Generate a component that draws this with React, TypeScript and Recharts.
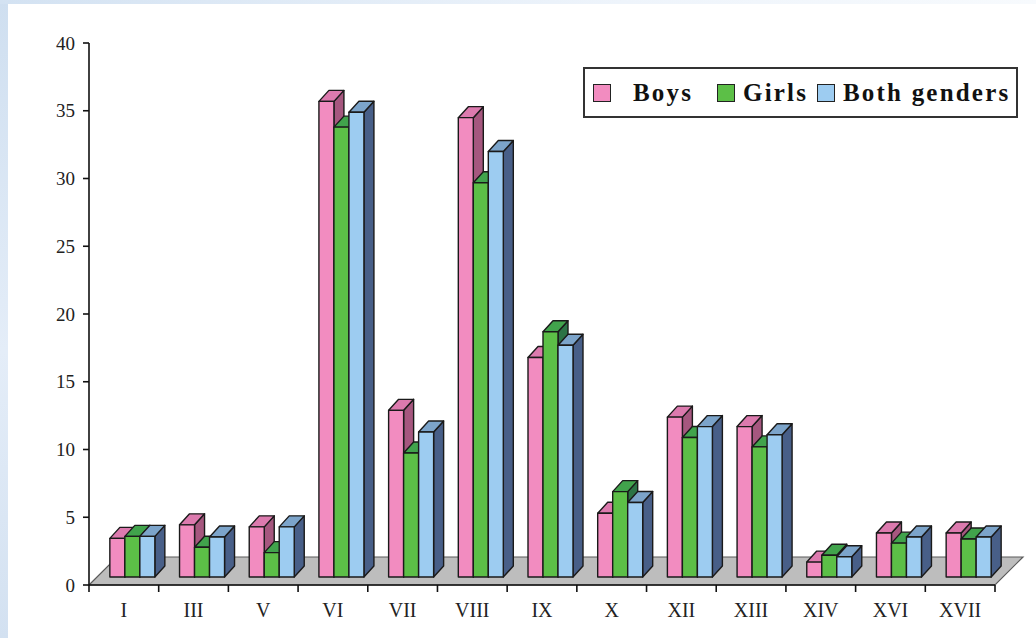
import { Bar, BarChart, Legend, ReferenceArea, XAxis, YAxis } from "recharts";

const CATEGORIES = ["I", "III", "V", "VI", "VII", "VIII", "IX", "X", "XII", "XIII", "XIV", "XVI", "XVII"];
const BOYS = [2.85, 3.85, 3.7, 35.1, 12.3, 33.9, 16.2, 4.7, 11.8, 11.1, 1.1, 3.25, 3.25];
const GIRLS = [3.0, 2.2, 1.8, 33.2, 9.15, 29.1, 18.1, 6.3, 10.3, 9.6, 1.6, 2.5, 2.8];
const BOTH_GENDERS = [3.0, 2.95, 3.7, 34.3, 10.7, 31.4, 17.1, 5.5, 11.1, 10.5, 1.5, 2.95, 2.95];
const SERIES_NAMES = ["Boys", "Girls", "Both genders"];
const Y_TICKS = [0, 5, 10, 15, 20, 25, 30, 35, 40];

const data = CATEGORIES.map((group, i) => ({
  group,
  boys: BOYS[i],
  girls: GIRLS[i],
  both: BOTH_GENDERS[i],
}));

const WIDTH = 1036;
const HEIGHT = 638;
const MARGIN = { top: 43, right: 41, bottom: 0, left: 0 };
const Y_AXIS_W = 89;
const X_AXIS_H = 53;
const PLOT_W = WIDTH - MARGIN.left - MARGIN.right - Y_AXIS_W;
const HALF_BAND = PLOT_W / CATEGORIES.length / 2;

// boxes stand a little behind the axis plane; DEPTH is the extrusion of each box
const FRONT = { dx: 9, dy: -8 };
const DEPTH = { dx: 10, dy: -11 };
const FLOOR = { dx: 28, dy: -28 };

const SERIF = '"Liberation Serif", "DejaVu Serif", serif';

const PALETTE = {
  boys: { front: "#f28cc0", top: "#dc7aae", side: "#a6577f" },
  girls: { front: "#5cbf47", top: "#41a34c", side: "#2c7346" },
  both: { front: "#9dccf1", top: "#7ca4ca", side: "#485f88" },
};

type BoxColors = { front: string; top: string; side: string };

function makeBox(colors: BoxColors) {
  return (props: any) => {
    const { x, y, width, height } = props;
    if (x == null || width == null) return null;
    const fx = x + FRONT.dx;
    const fy = y + FRONT.dy;
    const w = width;
    const h = height;
    const top = `${fx},${fy} ${fx + DEPTH.dx},${fy + DEPTH.dy} ${fx + w + DEPTH.dx},${fy + DEPTH.dy} ${fx + w},${fy}`;
    const side = `${fx + w},${fy} ${fx + w + DEPTH.dx},${fy + DEPTH.dy} ${fx + w + DEPTH.dx},${fy + h + DEPTH.dy} ${fx + w},${fy + h}`;
    return (
      <g stroke="#1a1a1a" strokeWidth={1.4} strokeLinejoin="round">
        <polygon points={side} fill={colors.side} />
        <polygon points={top} fill={colors.top} />
        <rect x={fx} y={fy} width={w} height={h} fill={colors.front} />
      </g>
    );
  };
}

function Floor(props: any) {
  const { x, y, width, height } = props;
  const bottom = y + height;
  const right = x + width;
  const pts = `${x},${bottom} ${right},${bottom} ${right + FLOOR.dx},${bottom + FLOOR.dy} ${x + FLOOR.dx},${bottom + FLOOR.dy}`;
  return <polygon points={pts} fill="#bdbdbd" stroke="#5a5a5a" strokeWidth={1.2} />;
}

function GroupTick(props: any) {
  const { x, y, payload, index } = props;
  const left = x - HALF_BAND;
  const right = x + HALF_BAND;
  return (
    <g>
      <line x1={left} y1={y - 7} x2={left} y2={y} stroke="#111" strokeWidth={1.6} />
      {index === CATEGORIES.length - 1 && (
        <line x1={right} y1={y - 7} x2={right} y2={y} stroke="#111" strokeWidth={1.6} />
      )}
      <text x={x} y={y + 25} textAnchor="middle" fill="#222" fontSize={20} fontFamily={SERIF}>
        {payload.value}
      </text>
    </g>
  );
}

const LEGEND_ITEM_X = [10, 134, 234];
const LEGEND_TEXT_GAP = [22, 8, 8];

function LegendBox({ payload }: any) {
  const items = [...(payload ?? [])].sort(
    (a: any, b: any) => SERIES_NAMES.indexOf(a.value) - SERIES_NAMES.indexOf(b.value)
  );
  return (
    <div
      style={{
        position: "relative",
        width: 435,
        height: 51,
        border: "2px solid #333",
        boxSizing: "border-box",
        background: "#fff",
      }}
    >
      {items.map((p: any, i: number) => (
        <div
          key={p.value}
          style={{
            position: "absolute",
            left: LEGEND_ITEM_X[i] - 2,
            top: 0,
            height: 47,
            display: "flex",
            alignItems: "center",
          }}
        >
          <span
            style={{
              display: "inline-block",
              width: 18,
              height: 18,
              border: "1.5px solid #222",
              boxSizing: "border-box",
              background: p.color,
            }}
          />
          <span
            style={{
              marginLeft: LEGEND_TEXT_GAP[i],
              fontFamily: SERIF,
              fontWeight: 700,
              fontSize: 25,
              letterSpacing: 2.2,
              color: "#111",
              whiteSpace: "nowrap",
            }}
          >
            {p.value}
          </span>
        </div>
      ))}
    </div>
  );
}

export default function App() {
  return (
    <div
      style={{
        position: "absolute",
        left: 0,
        top: 0,
        width: WIDTH,
        height: HEIGHT,
        background: "#fff",
        overflow: "hidden",
      }}
    >
      <div
        style={{
          position: "absolute",
          left: 0,
          top: 0,
          width: 8,
          height: HEIGHT,
          background: "linear-gradient(to bottom, #cfdff0, #e4edf8 55%, #d3e1f1)",
        }}
      />
      <div
        style={{
          position: "absolute",
          left: 0,
          top: 0,
          width: WIDTH,
          height: 4,
          background: "linear-gradient(to right, #d3e2f2, #eef4fb 60%, #f7fafd)",
        }}
      />
      <div style={{ position: "absolute", left: 0, top: 0 }}>
        <BarChart
          width={WIDTH}
          height={HEIGHT}
          data={data}
          margin={MARGIN}
          barCategoryGap="17%"
          barGap={0}
        >
          <ReferenceArea y1={0} y2={1} shape={<Floor />} ifOverflow="visible" />
          <XAxis
            dataKey="group"
            height={X_AXIS_H}
            interval={0}
            tickLine={false}
            tickSize={7}
            tickMargin={0}
            axisLine={{ stroke: "#111", strokeWidth: 1.6 }}
            tick={<GroupTick />}
          />
          <YAxis
            width={Y_AXIS_W}
            domain={[0, 40]}
            ticks={Y_TICKS}
            interval={0}
            tickSize={6}
            tickMargin={8}
            axisLine={{ stroke: "#111", strokeWidth: 1.6 }}
            tickLine={{ stroke: "#111", strokeWidth: 1.6 }}
            tick={{ fill: "#222", fontSize: 19, fontFamily: SERIF }}
          />
          <Legend
            layout="horizontal"
            verticalAlign="middle"
            align="center"
            content={<LegendBox />}
            wrapperStyle={{ left: 583, top: 67, width: 435, height: 51 }}
          />
          <Bar dataKey="boys" name="Boys" fill={PALETTE.boys.front} shape={makeBox(PALETTE.boys)} isAnimationActive={false} />
          <Bar dataKey="girls" name="Girls" fill={PALETTE.girls.front} shape={makeBox(PALETTE.girls)} isAnimationActive={false} />
          <Bar dataKey="both" name="Both genders" fill={PALETTE.both.front} shape={makeBox(PALETTE.both)} isAnimationActive={false} />
        </BarChart>
      </div>
    </div>
  );
}
